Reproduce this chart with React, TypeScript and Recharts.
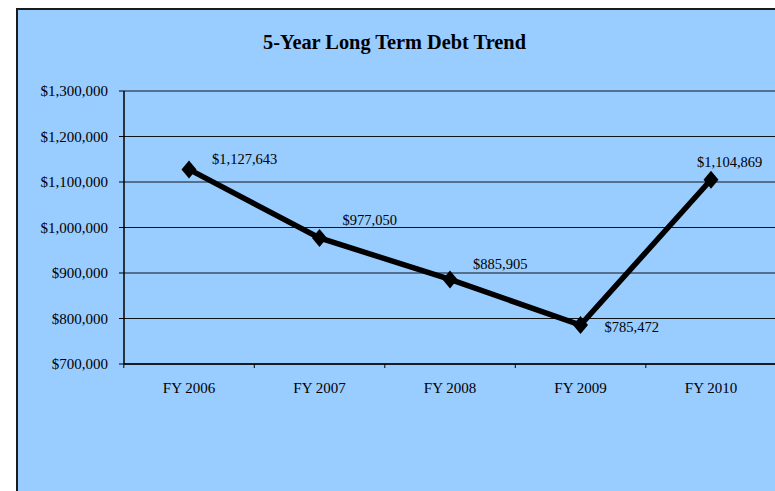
import React from 'react';
import { LineChart, Line, XAxis, YAxis, CartesianGrid, LabelList } from 'recharts';

const years = ['FY 2006', 'FY 2007', 'FY 2008', 'FY 2009', 'FY 2010'];
const debt = [1127643, 977050, 885905, 785472, 1104869];
const yTicks = [700000, 800000, 900000, 1000000, 1100000, 1200000, 1300000];

const data = years.map((year, i) => ({ year, debt: debt[i] }));

const FONT = '"Liberation Serif", "Times New Roman", serif';
const BG = '#99CCFF';
const HALF_BAND = 65.2;

// excel put each label a little differently
const LABEL_OFFSETS = [[23, -5], [23, -13], [23, -10], [24, 7], [-14, -13]];

function money(v: number) {
  return '$' + v.toLocaleString('en-US');
}

function Diamond(props: any) {
  const { cx, cy } = props;
  if (cx == null || cy == null) return null;
  return <polygon points={`${cx},${cy - 9} ${cx + 7.5},${cy} ${cx},${cy + 9} ${cx - 7.5},${cy}`} fill="#000" />;
}

function XTick(props: any) {
  const { x, payload, index } = props;
  return (
    <g>
      <line x1={x - HALF_BAND} x2={x - HALF_BAND} y1={364} y2={368} stroke="#000" />
      {index === years.length - 1 && (
        <line x1={x + HALF_BAND} x2={x + HALF_BAND} y1={364} y2={368} stroke="#000" />
      )}
      <text x={x} y={393} textAnchor="middle" fontFamily={FONT} fontSize={15} fill="#000">
        {payload.value}
      </text>
    </g>
  );
}

function DebtLabel(props: any) {
  const { x, y, value, index } = props;
  const [dx, dy] = LABEL_OFFSETS[index] ?? [20, -8];
  return (
    <text x={x + dx} y={y + dy} fontFamily={FONT} fontSize={14.5} fill="#000">
      {money(value)}
    </text>
  );
}

export default function App() {
  return (
    <div style={{ position: 'fixed', left: 0, top: 0, width: 775, height: 491, overflow: 'hidden', background: '#fff' }}>
      <div
        style={{
          position: 'absolute', left: 16, top: 8, width: 800, height: 600,
          background: BG, borderLeft: '2px solid #1a1a1a', borderTop: '2px solid #1a1a1a',
        }}
      />
      <svg width={775} height={491} style={{ position: 'absolute', left: 0, top: 0 }}>
        <text x={263} y={49} fontFamily={FONT} fontWeight="bold" fontSize={22}
              textLength={263} lengthAdjust="spacingAndGlyphs" fill="#000">
          5-Year Long Term Debt Trend
        </text>
      </svg>
      <div style={{ position: 'absolute', left: 0, top: 0 }}>
        <LineChart width={800} height={491} data={data}
                   margin={{ top: 91, right: 24, bottom: 87, left: 24 }}>
          <CartesianGrid vertical={false} stroke="#000" strokeOpacity={0.9} />
          <XAxis dataKey="year" height={40} padding={{ left: 65, right: 65 }}
                 axisLine={{ stroke: '#000', strokeWidth: 1.5 }} tickLine={false}
                 tick={<XTick />} interval={0} />
          <YAxis width={100} domain={[700000, 1300000]} ticks={yTicks} interval={0}
                 tickFormatter={money} tickSize={5} tickMargin={11}
                 axisLine={{ stroke: '#000', strokeWidth: 1.5 }} tickLine={{ stroke: '#000' }}
                 tick={{ fill: '#000', fontSize: 15, fontFamily: FONT }} />
          <Line dataKey="debt" stroke="#000" strokeWidth={5.5} dot={<Diamond />}
                activeDot={false} isAnimationActive={false} strokeLinejoin="miter">
            <LabelList dataKey="debt" content={<DebtLabel />} />
          </Line>
        </LineChart>
      </div>
    </div>
  );
}
